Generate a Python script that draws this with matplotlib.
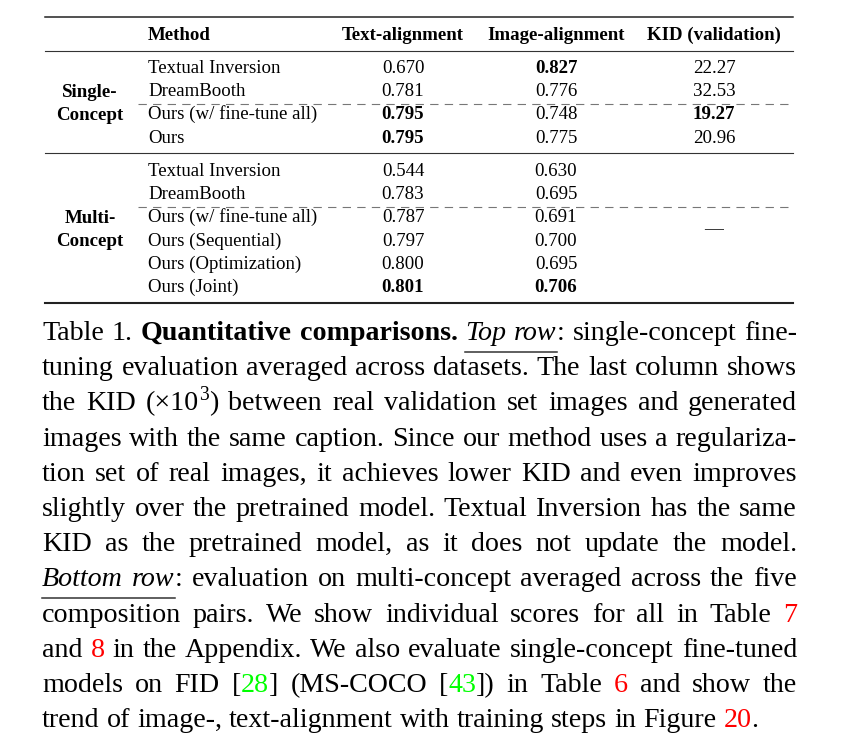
import re
import matplotlib
matplotlib.use("Agg")
import matplotlib.pyplot as plt
from matplotlib.font_manager import FontProperties

W, H = 855, 741
SERIF = "Liberation Serif"
plt.rcParams["lines.scale_dashes"] = False

# ---- table data
col_headers = ["Method", "Text-alignment", "Image-alignment", "KID (validation)"]
group_labels = [["Single-", "Concept"], ["Multi-", "Concept"]]
methods_single = ["Textual Inversion", "DreamBooth", "Ours (w/ fine-tune all)", "Ours"]
text_single = [0.670, 0.781, 0.795, 0.795]
image_single = [0.827, 0.776, 0.748, 0.775]
kid_single = [22.27, 32.53, 19.27, 20.96]
methods_multi = ["Textual Inversion", "DreamBooth", "Ours (w/ fine-tune all)",
                 "Ours (Sequential)", "Ours (Optimization)", "Ours (Joint)"]
text_multi = [0.544, 0.783, 0.787, 0.797, 0.800, 0.801]
image_multi = [0.630, 0.695, 0.691, 0.700, 0.695, 0.706]
kid_multi = "\u2014"

# caption, one entry per printed line; {b:..} bold, {u:..} underlined italic,
# {r:..} red link, {g:..} green citation, {s:..} superscript
caption_lines = [
    "Table 1. {b:Quantitative comparisons.} {u:Top row}: single-concept fine-",
    "tuning evaluation averaged across datasets. The last column shows",
    "the KID (\u00d710{s:3}) between real validation set images and generated",
    "images with the same caption. Since our method uses a regulariza-",
    "tion set of real images, it achieves lower KID and even improves",
    "slightly over the pretrained model. Textual Inversion has the same",
    "KID as the pretrained model, as it does not update the model.",
    "{u:Bottom row}: evaluation on multi-concept averaged across the five",
    "composition pairs. We show individual scores for all in Table {r:7}",
    "and {r:8} in the Appendix. We also evaluate single-concept fine-tuned",
    "models on FID [{g:28}] (MS-COCO [{g:43}]) in Table {r:6} and show the",
    "trend of image-, text-alignment with training steps in Figure {r:20}.",
]

# ---- layout (pixels)
TAB_PT = 13.6
CAP_PT = 20.2
x_left, x_right = 45, 793
x_method = 148
x_cols = [403, 556, 714]
x_group = 90
y_header = 40
row_step = 23.2
y_single0 = 73
y_multi0 = 176
cap_left, cap_right = 42, 797
cap_y0, cap_step = 340, 35.2

fig = plt.figure(figsize=(W / 100, H / 100), dpi=100)
ax = fig.add_axes([0, 0, 1, 1])
ax.set_xlim(0, W)
ax.set_ylim(H, 0)
ax.axis("off")


def txt(x, y, s, bold=False, ha="left", size=TAB_PT, **kw):
    ax.text(x, y, s, ha=ha, va="baseline", fontsize=size, family=SERIF,
            fontweight="bold" if bold else "normal", **kw)


def best(vals, lower=False):
    b = min(vals) if lower else max(vals)
    return [v == b for v in vals]


# header
txt(x_method, y_header, col_headers[0], bold=True)
for x, h in zip(x_cols, col_headers[1:]):
    txt(x, y_header, h, bold=True, ha="center")

groups = [
    (methods_single, text_single, image_single, kid_single, y_single0),
    (methods_multi, text_multi, image_multi, None, y_multi0),
]
for gi, (meth, ta, ia, kid, y0) in enumerate(groups):
    ys = [y0 + i * row_step for i in range(len(meth))]
    tb, ib = best(ta), best(ia)
    for i, m in enumerate(meth):
        txt(x_method, ys[i], m)
        txt(x_cols[0], ys[i], "%.3f" % ta[i], bold=tb[i], ha="center")
        txt(x_cols[1], ys[i], "%.3f" % ia[i], bold=ib[i], ha="center")
    ymid = (ys[0] + ys[-1]) / 2
    if kid is not None:
        kb = best(kid, lower=True)
        for i, k in enumerate(kid):
            txt(x_cols[2], ys[i], "%.2f" % k, bold=kb[i], ha="center")
    else:
        txt(x_cols[2], ymid, kid_multi, ha="center")
    txt(x_group, ymid - row_step / 2 + 0.5, group_labels[gi][0], bold=True, ha="center")
    txt(x_group, ymid + row_step / 2 + 0.5, group_labels[gi][1], bold=True, ha="center")
    # dashed separator between baselines and ours
    ax.plot([138, x_right], [ys[1] + 8, ys[1] + 8], color="#777777", lw=0.8,
            dashes=(6, 4.5))

# rules
ax.plot([x_left, x_right], [17, 17], color="#222222", lw=1.1)
ax.plot([x_left, x_right], [51, 51], color="#333333", lw=0.8)
ax.plot([x_left, x_right], [153, 153], color="#333333", lw=0.8)
ax.plot([x_left, x_right], [303, 303], color="#222222", lw=1.5)

# ---- caption, justified line by line
renderer = fig.canvas.get_renderer()
fp_cache = {}


def fprops(style, size):
    key = (style, size)
    if key not in fp_cache:
        fp_cache[key] = FontProperties(
            family=SERIF, size=size,
            weight="bold" if style == "b" else "normal",
            style="italic" if style == "u" else "normal")
    return fp_cache[key]


def run_size(style):
    return CAP_PT * 0.7 if style == "s" else CAP_PT


def width(s, style):
    w, _, _ = renderer.get_text_width_height_descent(s, fprops(style, run_size(style)), ismath=False)
    return w


def parse(line):
    runs = []
    for m in re.finditer(r"\{(\w):([^}]*)\}|([^{]+)", line):
        if m.group(3) is not None:
            runs.append(("n", m.group(3)))
        else:
            runs.append((m.group(1), m.group(2)))
    words = [[]]
    for style, s in runs:
        parts = s.split(" ")
        for k, p in enumerate(parts):
            if k > 0:
                words.append([])
            if p:
                words[-1].append((style, p))
    return [w for w in words if w]


space_w = width("x x", "n") - width("xx", "n")
colors = {"r": "#ff0000", "g": "#00ff00"}

for li, line in enumerate(caption_lines):
    y = cap_y0 + li * cap_step
    words = parse(line)
    wws = [sum(width(s, st) for st, s in w) for w in words]
    if li < len(caption_lines) - 1:
        gap = (cap_right - cap_left - sum(wws)) / (len(words) - 1)
    else:
        gap = space_w
    x = cap_left
    ul = []
    for w, ww in zip(words, wws):
        xx = x
        for st, s in w:
            dy = -10 if st == "s" else 0
            ax.text(xx, y + dy, s, ha="left", va="baseline",
                    fontproperties=fprops(st, run_size(st)),
                    color=colors.get(st, "black"))
            rw = width(s, st)
            if st == "u":
                ul.append((xx, xx + rw))
            xx += rw
        x += ww + gap
    if ul:
        x0 = min(a for a, b in ul)
        x1 = max(b for a, b in ul)
        ax.plot([x0, x1], [y + 11.5, y + 11.5], color="#333333", lw=1.1)

fig.savefig("out.png", dpi=100)
